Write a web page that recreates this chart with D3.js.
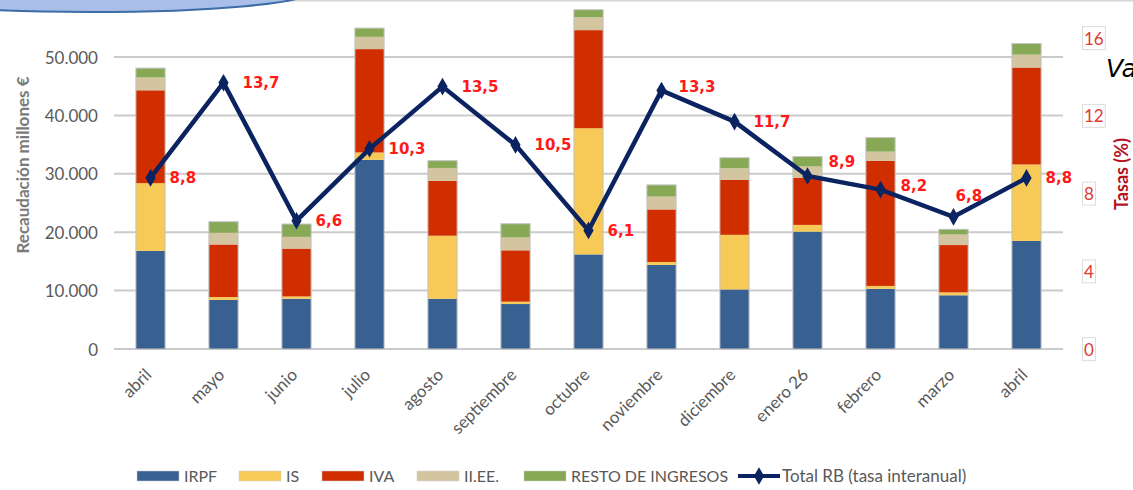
<!DOCTYPE html>
<html>
<head>
<meta charset="utf-8">
<script src="https://cdn.jsdelivr.net/npm/d3@7"></script>
<style>
  html, body { margin: 0; padding: 0; background: #fff; }
  svg { display: block; }
</style>
</head>
<body>
<svg id="chart" width="1133" height="490"></svg>
<script>
// Recaudación mensual por figura tributaria (millones €) y tasa interanual del total
const months = ["abril", "mayo", "junio", "julio", "agosto", "septiembre", "octubre",
                "noviembre", "diciembre", "enero 26", "febrero", "marzo", "abril"];
const irpf  = [16800, 8400, 8600, 32400, 8600, 7700, 16200, 14400, 10200, 20100, 10300, 9200, 18500];
const is    = [11600, 500, 400, 1250, 10800, 400, 21600, 500, 9350, 1150, 500, 500, 13100];
const iva   = [15900, 9000, 8200, 17700, 9400, 8800, 16800, 9000, 9400, 8100, 21400, 8100, 16600];
const iiee  = [2200, 2000, 2000, 2100, 2200, 2200, 2200, 2200, 2000, 1900, 1600, 1800, 2200];
const resto = [1600, 1900, 2200, 1500, 1250, 2350, 1300, 2000, 1800, 1700, 2400, 900, 1900];
const tasa  = [8.8, 13.7, 6.6, 10.3, 13.5, 10.5, 6.1, 13.3, 11.7, 8.9, 8.2, 6.8, 8.8];
const leftTicks  = [0, 10000, 20000, 30000, 40000, 50000];
const rightTicks = [0, 4, 8, 12, 16];

const seriesNames = ["IRPF", "IS", "IVA", "II.EE.", "RESTO DE INGRESOS"];
const seriesData  = [irpf, is, iva, iiee, resto];
const colors = ["#386192", "#f7ca58", "#d12e00", "#d4c5a1", "#87a956"];
const lineColor = "#0b2461";
const grey = "#595959";

const svg = d3.select("#chart");

// decorative header shape and top rule
svg.append("line").attr("x1", 260).attr("x2", 1133).attr("y1", 0.5).attr("y2", 0.5)
  .attr("stroke", "#d6d6d6").attr("stroke-width", 2);
svg.append("ellipse").attr("cx", 90).attr("cy", -8).attr("rx", 220).attr("ry", 20)
  .attr("fill", "#a9bee8").attr("stroke", "#3d6da6").attr("stroke-width", 2);

const plotLeft = 114, plotRight = 1063;
const x = d3.scaleBand().domain(d3.range(months.length))
  .range([plotLeft, plotRight]).paddingInner(0.6).paddingOuter(0.3);
const y = d3.scaleLinear().domain([0, 50000]).range([349, 57]);
const yR = d3.scaleLinear().domain([0, 16]).range([349, 38]);

// gridlines
svg.append("g").selectAll("line").data(leftTicks).join("line")
  .attr("x1", plotLeft).attr("x2", plotRight)
  .attr("y1", d => y(d)).attr("y2", d => y(d))
  .attr("stroke", "#cbcbcb").attr("stroke-width", 2);

// left axis
const fmt = d => d3.format(",")(d).replace(/,/g, ".");
const leftAxis = svg.append("g").attr("transform", `translate(${plotLeft - 16},0)`)
  .call(d3.axisLeft(y).tickValues(leftTicks).tickSize(0).tickPadding(0).tickFormat(fmt));
leftAxis.select(".domain").remove();
leftAxis.selectAll("text").attr("fill", grey).attr("font-family", "Lato, 'Open Sans', sans-serif")
  .attr("font-size", 17).attr("dy", "0.36em");

svg.append("text").attr("transform", "translate(29,165) rotate(-90)")
  .attr("text-anchor", "middle").attr("fill", "#7a7a7a")
  .attr("font-family", "Lato, 'Open Sans', sans-serif").attr("font-weight", "bold")
  .attr("font-size", 17).text("Recaudación millones €");

// right axis with boxed labels
const rightAxis = svg.append("g").attr("transform", "translate(1084,0)")
  .call(d3.axisRight(yR).tickValues(rightTicks).tickSize(0).tickPadding(0));
rightAxis.select(".domain").remove();
rightAxis.selectAll(".tick text").attr("fill", "#de3b33")
  .attr("font-family", "Lato, 'Open Sans', sans-serif").attr("font-size", 17).attr("dy", "0.36em");
rightAxis.selectAll(".tick").each(function () {
  const t = d3.select(this).select("text");
  const bb = t.node().getBBox();
  d3.select(this).insert("rect", "text")
    .attr("x", bb.x - 1.5).attr("y", bb.y - 1).attr("width", bb.width + 3).attr("height", bb.height + 2)
    .attr("fill", "none").attr("stroke", "#dcdcdc").attr("stroke-width", 1);
});

svg.append("text").attr("transform", "translate(1128,174) rotate(-90)")
  .attr("text-anchor", "middle").attr("fill", "#b5121b")
  .attr("font-family", "Lato, 'Open Sans', sans-serif").attr("font-weight", "bold")
  .attr("font-size", 18).text("Tasas (%)");

svg.append("text").attr("x", 1106).attr("y", 77).attr("fill", "#000")
  .attr("font-family", "'DejaVu Sans', sans-serif").attr("font-style", "italic")
  .attr("font-size", 25).text("Va");

// stacked bars
const rows = months.map((m, i) => {
  const r = { i };
  seriesNames.forEach((s, k) => r[s] = seriesData[k][i]);
  return r;
});
const stacked = d3.stack().keys(seriesNames)(rows);

svg.append("g").selectAll("g").data(stacked).join("g")
  .attr("fill", (d, k) => colors[k])
  .selectAll("rect").data(d => d).join("rect")
  .attr("x", d => x(d.data.i)).attr("width", x.bandwidth())
  .attr("y", d => y(d[1])).attr("height", d => y(d[0]) - y(d[1]));

const totals = rows.map(r => d3.sum(seriesNames, s => r[s]));
svg.append("g").selectAll("rect").data(totals).join("rect")
  .attr("x", (d, i) => x(i)).attr("width", x.bandwidth())
  .attr("y", d => y(d)).attr("height", d => y(0) - y(d))
  .attr("fill", "none").attr("stroke", "#c4c4c4").attr("stroke-width", 1);

// x axis labels
const xAxis = svg.append("g").attr("transform", "translate(0,349)")
  .call(d3.axisBottom(x).tickSize(0).tickPadding(0).tickFormat(i => months[i]));
xAxis.select(".domain").remove();
xAxis.selectAll("text").attr("fill", grey).attr("font-family", "Lato, 'Open Sans', sans-serif")
  .attr("font-size", 17).attr("text-anchor", "end").attr("dy", 0)
  .attr("transform", "translate(2,27) rotate(-45)");

// rate line
const cx = i => x(i) + x.bandwidth() / 2;
svg.append("path").datum(tasa)
  .attr("d", d3.line().x((d, i) => cx(i)).y(d => yR(d)))
  .attr("fill", "none").attr("stroke", lineColor).attr("stroke-width", 4.5)
  .attr("stroke-linejoin", "miter");
const diamond = d3.symbol().type(d3.symbolDiamond).size(90);
svg.append("g").selectAll("path").data(tasa).join("path")
  .attr("d", diamond).attr("fill", lineColor)
  .attr("transform", (d, i) => `translate(${cx(i)},${yR(d)})`);

// value labels (a few nudged to avoid the line)
const nudge = { 7: [17, -4], 9: [21, -14], 10: [20, -4], 11: [2, -21] };
svg.append("g").selectAll("text").data(tasa).join("text")
  .attr("x", (d, i) => cx(i) + (nudge[i] ? nudge[i][0] : 19))
  .attr("y", (d, i) => yR(d) + (nudge[i] ? nudge[i][1] : 0))
  .attr("dy", "0.36em").attr("fill", "#ff1a1a")
  .attr("font-family", "'DejaVu Sans', sans-serif").attr("font-weight", "bold")
  .attr("font-size", 15).text(d => d3.format(".1f")(d).replace(".", ","));

// legend
const legend = svg.append("g").attr("font-family", "Lato, 'Open Sans', sans-serif")
  .attr("font-size", 16).attr("fill", grey);
const legX = [137, 239, 322, 417, 524];
seriesNames.forEach((s, k) => {
  legend.append("rect").attr("x", legX[k]).attr("y", 471).attr("width", 42).attr("height", 10)
    .attr("fill", colors[k]).attr("stroke", "#d0d0d0").attr("stroke-width", 0.5);
  legend.append("text").attr("x", legX[k] + 47).attr("y", 476).attr("dy", "0.36em").text(s);
});
legend.append("line").attr("x1", 738).attr("x2", 780).attr("y1", 476).attr("y2", 476)
  .attr("stroke", lineColor).attr("stroke-width", 4);
legend.append("path").attr("d", diamond).attr("fill", lineColor)
  .attr("transform", "translate(759,476)");
legend.append("text").attr("x", 782).attr("y", 476).attr("dy", "0.36em")
  .attr("font-size", 17).text("Total RB (tasa interanual)");
</script>
</body>
</html>
